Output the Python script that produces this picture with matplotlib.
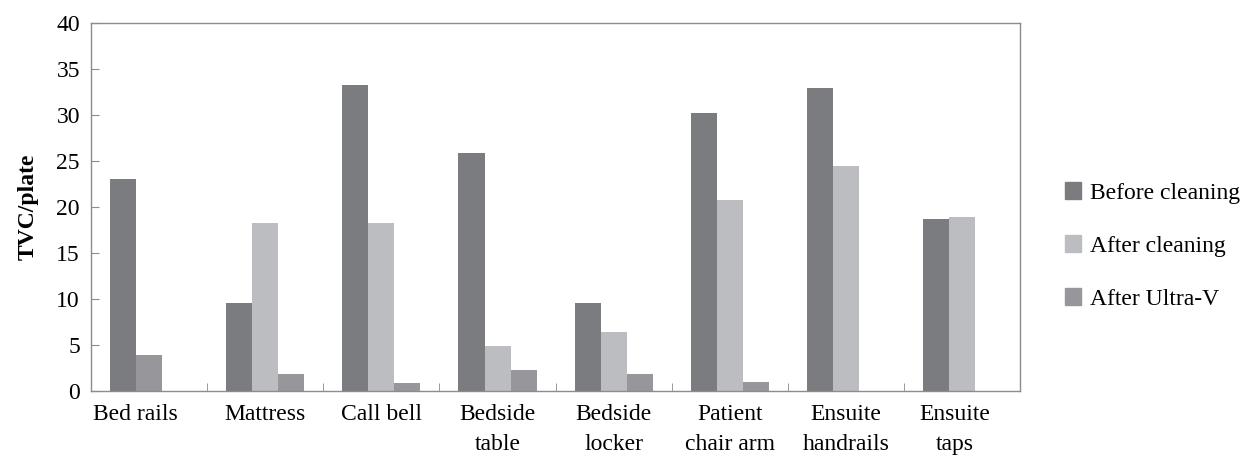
import numpy as np
import matplotlib
matplotlib.use("Agg")
import matplotlib.pyplot as plt
import matplotlib.transforms as mtrans
from matplotlib.patches import Patch

plt.rcParams['font.family'] = ['Liberation Serif', 'DejaVu Serif']

categories = ['Bed rails', 'Mattress', 'Call bell', 'Bedside\ntable', 'Bedside\nlocker',
              'Patient\nchair arm', 'Ensuite\nhandrails', 'Ensuite\ntaps']
before = [23.0, 9.6, 33.3, 25.9, 9.6, 30.2, 32.9, 18.7]
after_clean = [3.9, 18.3, 18.3, 4.9, 6.4, 20.8, 24.5, 18.9]
after_uv = [0, 1.9, 0.9, 2.3, 1.8, 1.0, 0, 0]

c_before = '#7b7c80'
c_after = '#bcbdc1'
c_uv = '#97979b'
axis_col = '#8c8c8c'
fs = 17

fig = plt.figure(figsize=(12.44, 4.57), dpi=100)
ax = fig.add_axes([0.0732, 0.1444, 0.7468, 0.8053])

x = np.arange(len(categories))
w = 0.224
# bed rails second bar is drawn in the Ultra-V shade in the original
after_cols = [c_uv] + [c_after] * (len(categories) - 1)
ax.bar(x - w, before, w, color=c_before)
ax.bar(x, after_clean, w, color=after_cols)
ax.bar(x + w, after_uv, w, color=c_uv)

ax.set_xlim(-0.5, len(categories) - 0.5)
ax.set_ylim(0, 40)
ax.set_yticks(np.arange(0, 41, 5))
ax.set_xticks(x)
ax.set_xticklabels(categories, linespacing=1.6)
ax.set_xticks(np.arange(-0.5, len(categories)), minor=True)
ax.tick_params(axis='x', which='major', length=0, pad=9, labelsize=fs)
ax.tick_params(axis='x', which='minor', direction='in', length=6, color=axis_col)
ax.tick_params(axis='y', direction='in', length=6, color=axis_col, labelsize=fs, pad=8)
for s in ax.spines.values():
    s.set_color(axis_col)
    s.set_linewidth(1.0)

# first and last labels sit a bit left of centre in the original
labels = ax.get_xticklabels()
for i, dx in [(0, -14), (len(labels) - 1, -7)]:
    labels[i].set_transform(labels[i].get_transform() +
                            mtrans.ScaledTranslation(dx / 100, 0, fig.dpi_scale_trans))

ax.set_ylabel('TVC/plate', fontsize=fs, fontweight='bold', labelpad=13)

handles = [Patch(color=c_before), Patch(color=c_after), Patch(color=c_uv)]
fig.legend(handles, ['Before cleaning', 'After cleaning', 'After Ultra-V'],
           loc='center left', bbox_to_anchor=(0.839, 0.462), frameon=False,
           fontsize=fs, handlelength=0.7, handleheight=0.7, handletextpad=0.35,
           labelspacing=1.33)

fig.savefig('out.png', dpi=100)
